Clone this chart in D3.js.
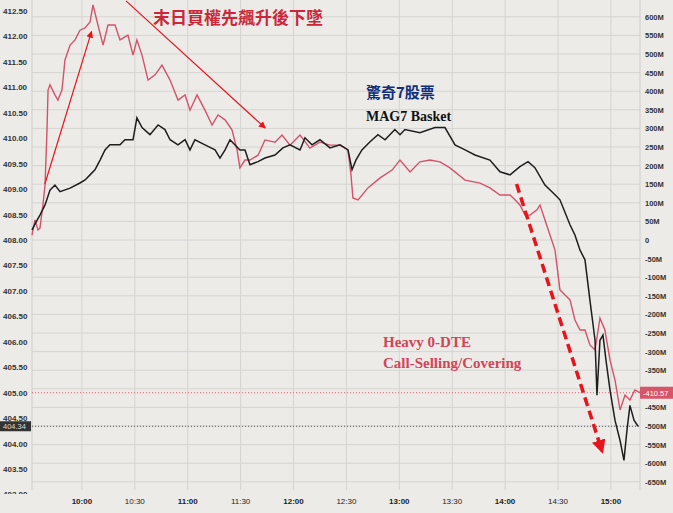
<!DOCTYPE html>
<html><head><meta charset="utf-8">
<script src="https://cdn.jsdelivr.net/npm/d3@7/dist/d3.min.js"></script>
<style>body{margin:0;background:#fff}svg{display:block}</style>
</head><body><svg id="c" width="673" height="513"></svg>
<script>
// minutes after 09:30
const blackT=[1.7,4,6.2,9.1,11.9,14.7,17.6,23.3,28.9,31.8,34.6,37.4,40.3,43.1,45.9,51.6,54.4,59,61.2,64.1,68.6,73.2,77.1,80,84.5,88.5,91.3,94.1,99.8,105.5,108.3,111.2,114,119.6,122.5,125.3,129.9,133.8,139.5,144,148,153.7,156.5,160.5,165,170.7,176.4,180.9,183.2,185.4,188.8,193.4,197.9,201.9,207.5,210.4,213.2,221.7,230.2,235.9,241.6,247.3,252.9,261.4,267.1,272.8,278.4,283,286.9,292.6,298.3,301.1,306.8,309.6,312.5,315.3,318.1,321,322.1,323.8,325.5,327.2,329.5,332.3,335.2,337.4,339.1,340.8,343.1,345.4];
const blackV=[408.20,408.35,408.49,408.69,408.98,409.08,408.95,409.02,409.12,409.18,409.28,409.38,409.57,409.77,409.87,409.87,409.97,409.97,410.40,410.21,410.07,410.26,410.17,409.97,409.87,409.97,409.77,409.97,409.87,409.77,409.61,409.77,409.97,409.77,409.77,409.48,409.54,409.61,409.67,409.81,409.87,409.77,410.01,409.87,409.97,409.81,409.87,409.77,409.38,409.57,409.77,409.93,410.07,409.97,410.17,410.07,410.17,410.11,410.21,410.21,409.87,409.77,409.67,409.57,409.34,409.28,409.44,409.54,409.42,409.08,408.89,408.79,408.30,408.10,407.80,407.61,406.82,406.03,404.95,406.03,406.13,405.64,405.05,404.46,404.06,403.67,404.26,404.75,404.46,404.34];
const redT=[1.7,3.4,5.1,6.2,7.9,9.1,10.2,10.8,11.9,14.7,16.4,18.7,20.4,23.3,26.1,28.9,31.8,34.6,36.3,39.1,42,44.8,48.8,51.6,56.1,59,61.2,64.1,67.5,71.5,75.4,80,84.5,88.5,91.3,95.3,99.8,103.8,107.2,111.2,115.1,118,119.6,122.5,125.3,129.9,133.8,139.5,143.5,148,153.7,159.3,165,170.7,176.4,180.9,182.6,183.7,186.6,192.2,199.1,205.9,210.4,216.1,221.7,227.4,233.1,238.7,247.3,255.8,261.4,267.1,272.8,275.6,278.4,281.3,284.1,288.1,289.8,292.6,295.5,298.3,301.1,304,306.8,309.6,312.5,315.3,318.1,321,323.8,326.6,329.5,332.3,335.2,338,340.8,343.6,346.5];
const redV=[13,54,27,32,94,148,296,403,417,390,376,403,484,524,538,564,570,586,632,578,524,578,578,538,551,497,538,497,430,444,470,430,376,390,349,390,349,309,336,323,296,242,194,215,215,228,269,263,282,255,282,247,263,255,255,242,175,113,108,140,167,188,215,183,210,215,210,194,161,153,140,121,121,108,94,67,67,81,94,54,13,-27,-134,-148,-161,-215,-242,-242,-282,-296,-210,-242,-323,-376,-457,-417,-430,-403,-410.57];
const leftTicks=[412.5,412,411.5,411,410.5,410,409.5,409,408.5,408,407.5,407,406.5,406,405.5,405,404.5,404,403.5,403];
const rightTicks=d3.range(600,-651,-50);
const timeTicks=[30,60,90,120,150,180,210,240,270,300,330];
const timeLabels=["10:00","10:30","11:00","11:30","12:00","12:30","13:00","13:30","14:00","14:30","15:00"];

const svg=d3.select("#c");
svg.append("rect").attr("width",673).attr("height",513).attr("fill","#ecebe8");
const x=d3.scaleLinear().domain([0,30]).range([29,81.9]);
const yL=d3.scaleLinear().domain([408,412.5]).range([240,11]);
const yR=d3.scaleLinear().domain([0,600]).range([240,16.8]);
const L=32,R=640,T=0,B=490;
svg.append("clipPath").attr("id","lc").append("rect").attr("x",0).attr("y",0).attr("width",40).attr("height",494);
const g=svg.append("g");
rightTicks.forEach(v=>g.append("line").attr("x1",L).attr("x2",R).attr("y1",yR(v)).attr("y2",yR(v)).attr("stroke","#d6d4d1"));
timeTicks.forEach(v=>g.append("line").attr("x1",x(v)).attr("x2",x(v)).attr("y1",T).attr("y2",B).attr("stroke","#d6d4d1"));
g.append("line").attr("x1",L).attr("x2",L).attr("y1",0).attr("y2",B).attr("stroke","#cfcdca");
g.append("line").attr("x1",R).attr("x2",R).attr("y1",0).attr("y2",B).attr("stroke","#cfcdca");
const f="Helvetica, Arial, 'Liberation Sans', sans-serif";
const la=svg.append("g").attr("clip-path","url(#lc)");
leftTicks.forEach(v=>la.append("text").attr("x",3).attr("y",yL(v)+3).attr("font-size",8).attr("font-family",f).attr("font-weight","bold").attr("fill","#333").text(v.toFixed(2)));
rightTicks.forEach(v=>svg.append("text").attr("x",645).attr("y",yR(v)+3).attr("font-size",7.5).attr("font-family",f).attr("font-weight","bold").attr("fill","#333").text(v===0?"0":v+"M"));
timeTicks.forEach((v,i)=>svg.append("text").attr("x",x(v)).attr("y",504).attr("text-anchor","middle").attr("font-size",8).attr("font-family",f).attr("font-weight",i%2?"normal":"bold").attr("fill","#222").text(timeLabels[i]));
g.append("line").attr("x1",L).attr("x2",R).attr("y1",yR(-410.57)).attr("y2",yR(-410.57)).attr("stroke","#e06070").attr("stroke-dasharray","1,2");
g.append("line").attr("x1",L).attr("x2",R).attr("y1",yL(404.34)).attr("y2",yL(404.34)).attr("stroke","#555").attr("stroke-dasharray","1,2");
const lr=d3.line().x((d,i)=>x(redT[i])).y(d=>yR(d));
const lb=d3.line().x((d,i)=>x(blackT[i])).y(d=>yL(d));
g.append("path").attr("d",lr(redV)).attr("fill","none").attr("stroke","#d4526a").attr("stroke-width",1.4);
g.append("path").attr("d",lb(blackV)).attr("fill","none").attr("stroke","#1e1e1e").attr("stroke-width",1.5);
svg.append("rect").attr("x",0).attr("y",yL(404.34)-5).attr("width",31).attr("height",10).attr("fill","#333");
svg.append("text").attr("x",3).attr("y",yL(404.34)+3).attr("font-size",7.5).attr("font-family",f).attr("fill","#ddd").text("404.34");
svg.append("rect").attr("x",640).attr("y",yR(-410.57)-6).attr("width",33).attr("height",12).attr("fill","#d85468");
svg.append("text").attr("x",643).attr("y",yR(-410.57)+3).attr("font-size",7.5).attr("font-family",f).attr("fill","#fff").text("-410.57");
const defs=svg.append("defs");
defs.append("marker").attr("id","ah").attr("viewBox","0 0 10 10").attr("refX",9).attr("refY",5).attr("markerWidth",7).attr("markerHeight",7).attr("markerUnits","userSpaceOnUse").attr("orient","auto").append("path").attr("d","M0,0L10,5L0,10z").attr("fill","#e8141c");
defs.append("marker").attr("id","ah2").attr("viewBox","0 0 10 10").attr("refX",8).attr("refY",5).attr("markerWidth",14).attr("markerHeight",14).attr("markerUnits","userSpaceOnUse").attr("orient","auto").append("path").attr("d","M0,0L10,5L0,10z").attr("fill","#e8141c");
function arrow(t1,p1,t2,p2,dash){
  const l=svg.append("line").attr("x1",x(t1)).attr("y1",yL(p1)).attr("x2",x(t2)).attr("y2",yL(p2)).attr("stroke","#e8141c");
  if(dash) l.attr("stroke-width",3.5).attr("stroke-dasharray","9,5").attr("marker-end","url(#ah2)");
  else l.attr("stroke-width",1.2).attr("marker-end","url(#ah)");
}
arrow(9,409.1,35.5,412.1,false);
arrow(55,412.7,134,410.2,false);
arrow(276.5,409.1,325,403.85,true);
svg.append("text").attr("x",153).attr("y",24).attr("font-size",17).attr("font-family","'Noto Sans CJK TC',sans-serif").attr("font-weight","bold").attr("fill","#c9283a").text("末日買權先飆升後下墜");
svg.append("text").attr("x",366).attr("y",98).attr("font-size",15).attr("font-family","'Noto Sans CJK TC',sans-serif").attr("font-weight","bold").attr("fill","#12307a").text("驚奇7股票");
svg.append("text").attr("x",366).attr("y",121).attr("font-size",14).attr("font-family","'Liberation Serif',serif").attr("font-weight","bold").attr("fill","#111").text("MAG7 Basket");
svg.append("text").attr("x",383).attr("y",347).attr("font-size",15).attr("font-family","'Liberation Serif',serif").attr("font-weight","bold").attr("fill","#d24458").text("Heavy 0-DTE");
svg.append("text").attr("x",383).attr("y",368).attr("font-size",15).attr("font-family","'Liberation Serif',serif").attr("font-weight","bold").attr("fill","#d24458").text("Call-Selling/Covering");
</script></body></html>
